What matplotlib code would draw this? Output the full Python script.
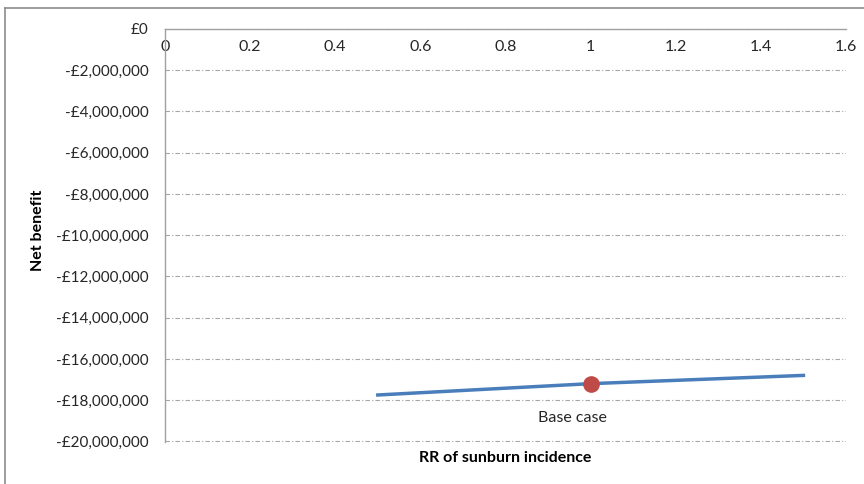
import numpy as np
import matplotlib.pyplot as plt
from matplotlib.ticker import FuncFormatter
from matplotlib.lines import Line2D

# data
rr = [0.5, 1.0, 1.5]
net_benefit = [-17750000, -17200000, -16800000]
base_rr = 1.0
base_nb = -17200000

plt.rcParams['font.family'] = ['Lato', 'DejaVu Sans']

fig = plt.figure(figsize=(8.64, 4.84), dpi=100)
ax = fig.add_axes([165/864, 1 - 442/484, (846-165)/864, (442-29)/484])

ax.plot(rr, net_benefit, color='#4a7ebb', lw=2.5, zorder=3)
ax.plot([base_rr], [base_nb], 'o', color='#be4b48', ms=11, zorder=4)
ax.annotate('Base case', (base_rr, base_nb), xytext=(-13, -25), textcoords='offset points',
            ha='center', va='center', fontsize=11.5, color='#262626')

ax.set_xlim(0, 1.6)
ax.set_ylim(-20030000, 0)
ax.set_xticks(np.arange(0, 1.61, 0.2))
ax.set_yticks(np.arange(-20000000, 1, 2000000))

def fmt_x(v, pos):
    s = '%g' % round(v, 1)
    return s

def fmt_y(v, pos):
    if v == 0:
        return '£0'
    return '-£{:,.0f}'.format(abs(v))

ax.xaxis.set_major_formatter(FuncFormatter(fmt_x))
ax.yaxis.set_major_formatter(FuncFormatter(fmt_y))

ax.spines['bottom'].set_position(('data', 0))
ax.spines['top'].set_visible(False)
ax.spines['right'].set_visible(False)
for s in ['bottom', 'left']:
    ax.spines[s].set_color('#a0a0a0')
    ax.spines[s].set_linewidth(1)

ax.tick_params(axis='both', length=0, labelsize=11.5, colors='#262626')
ax.tick_params(axis='x', pad=8)
ax.tick_params(axis='y', pad=12, labelsize=11)

ax.yaxis.grid(True, color='#a6a6a6', lw=0.8, linestyle=(0, (4, 2, 1, 2)))
ax.set_axisbelow(True)

fig.text(505/864, 1 - 458/484, 'RR of sunburn incidence', ha='center', va='center',
         fontsize=11.5, fontweight='bold', color='black')
fig.text(38/864, 1 - 230/484, 'Net benefit', ha='center', va='center', rotation=90,
         fontsize=11.5, fontweight='bold', color='black')

# outer chart border (left and top edges visible)
fig.add_artist(Line2D([5/864, 5/864], [0, 1 - 8/484], transform=fig.transFigure,
                      color='#8c8c8c', lw=1.2))
fig.add_artist(Line2D([5/864, 1], [1 - 8/484, 1 - 8/484], transform=fig.transFigure,
                      color='#8c8c8c', lw=1.2))

fig.savefig('out.png', dpi=100)
